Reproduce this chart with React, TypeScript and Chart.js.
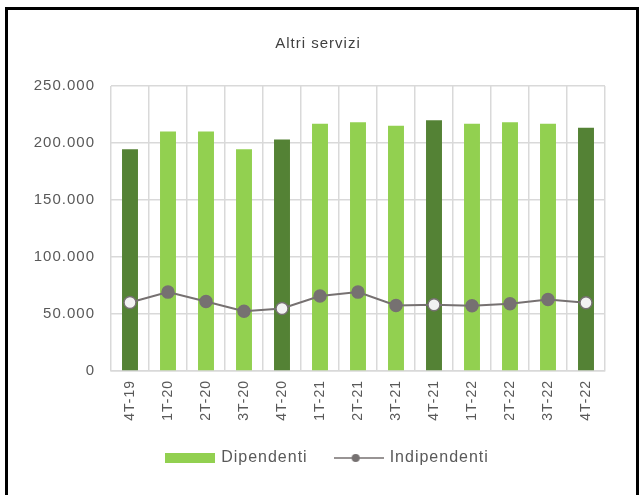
import React, { useEffect, useRef } from "react";
import { Chart, registerables } from "chart.js";

Chart.register(...registerables);

const categories = ["4T-19", "1T-20", "2T-20", "3T-20", "4T-20", "1T-21", "2T-21", "3T-21", "4T-21", "1T-22", "2T-22", "3T-22", "4T-22"];
const dipendenti = [194500, 210000, 210000, 194500, 203000, 216800, 218300, 215100, 220000, 216800, 218300, 216800, 213300];
const indipendenti = [60100, 69200, 61000, 52500, 54900, 65700, 69200, 57500, 58100, 57200, 59000, 62800, 59900];
const yTicks = [0, 50000, 100000, 150000, 200000, 250000];

const DARK = "#548235";
const LIGHT = "#92D050";
const GRAY = "#767171";
const TEXT = "#595959";
const FONT = "'Liberation Sans', Arial, sans-serif";

function fmt(v: number): string {
  return String(Math.round(v)).replace(/\B(?=(\d{3})+(?!\d))/g, ".");
}

function makeBarIcon(): HTMLCanvasElement {
  const c = document.createElement("canvas");
  c.width = 50;
  c.height = 10;
  const g = c.getContext("2d")!;
  g.fillStyle = LIGHT;
  g.fillRect(0, 0, 50, 10);
  return c;
}

function makeLineIcon(): HTMLCanvasElement {
  const c = document.createElement("canvas");
  c.width = 50;
  c.height = 12;
  const g = c.getContext("2d")!;
  g.strokeStyle = GRAY;
  g.lineWidth = 1.5;
  g.beginPath();
  g.moveTo(0, 6);
  g.lineTo(50, 6);
  g.stroke();
  g.fillStyle = GRAY;
  g.beginPath();
  g.arc(22, 6, 4, 0, Math.PI * 2);
  g.fill();
  return c;
}

const spacingPlugin = {
  id: "letterSpacing",
  beforeUpdate(chart: any) {
    (chart.ctx as any).letterSpacing = "1px";
  },
  beforeLayout(chart: any) {
    (chart.ctx as any).letterSpacing = "1px";
  },
  afterLayout(chart: any) {
    if (chart.legend) {
      chart.legend.left += 10;
      chart.legend.right += 10;
    }
  },
  beforeDraw(chart: any) {
    (chart.ctx as any).letterSpacing = "1px";
  },
};

export default function App() {
  const ref = useRef<HTMLCanvasElement | null>(null);

  useEffect(() => {
    if (!ref.current) return;
    const barIcon = makeBarIcon();
    const lineIcon = makeLineIcon();
    const isQ4 = (c: string) => c.startsWith("4T");
    const chart = new Chart(ref.current, {
      type: "bar",
      plugins: [spacingPlugin],
      data: {
        labels: categories,
        datasets: [
          {
            type: "line",
            label: "Indipendenti",
            data: indipendenti,
            borderColor: GRAY,
            borderWidth: 2,
            pointRadius: 6,
            pointBorderWidth: 1.5,
            pointBorderColor: GRAY,
            pointBackgroundColor: categories.map((c) => (isQ4(c) ? "#F2F2F2" : GRAY)),
            order: 0,
          } as any,
          {
            type: "bar",
            label: "Dipendenti",
            data: dipendenti,
            backgroundColor: categories.map((c) => (isQ4(c) ? DARK : LIGHT)),
            barPercentage: 0.42,
            categoryPercentage: 1,
            order: 1,
          },
        ],
      },
      options: {
        animation: false,
        responsive: false,
        maintainAspectRatio: false,
        layout: { padding: { left: 23, right: 31, top: 0, bottom: 22 } },
        plugins: {
          title: {
            display: true,
            text: "Altri servizi",
            color: "#404040",
            font: { family: FONT, size: 15, weight: "normal" },
            padding: { top: 25, bottom: 33 },
          },
          legend: {
            position: "bottom",
            labels: {
              usePointStyle: true,
              pointStyleWidth: 46,
              boxHeight: 12,
              color: TEXT,
              font: { family: FONT, size: 16 },
              padding: 28,
              generateLabels: () => [
                { text: "Dipendenti", pointStyle: barIcon, fillStyle: LIGHT, strokeStyle: LIGHT, lineWidth: 0, datasetIndex: 1, fontColor: TEXT } as any,
                { text: "Indipendenti", pointStyle: lineIcon, fillStyle: GRAY, strokeStyle: GRAY, lineWidth: 0, datasetIndex: 0, fontColor: TEXT } as any,
              ],
            },
          },
          tooltip: { enabled: false },
        },
        scales: {
          x: {
            grid: { color: "#D9D9D9", lineWidth: 1.5, drawTicks: false, offset: true },
            border: { color: "#D9D9D9", width: 1.5 },
            afterFit: (axis: any) => {
              axis.height = 51;
            },
            ticks: {
              color: TEXT,
              font: { family: FONT, size: 14 },
              minRotation: 90,
              maxRotation: 90,
              padding: 9,
            },
          },
          y: {
            min: 0,
            max: 250000,
            grid: { color: "#D9D9D9", lineWidth: 1.5, drawTicks: false },
            border: { display: false },
            afterFit: (axis: any) => {
              axis.width = 80;
            },
            afterBuildTicks: (axis: any) => {
              axis.ticks = yTicks.map((v) => ({ value: v }));
            },
            ticks: {
              color: TEXT,
              font: { family: FONT, size: 15 },
              padding: 16,
              callback: (v: any) => fmt(Number(v)),
            },
          },
        },
      },
    });
    return () => chart.destroy();
  }, []);

  return (
    <div
      style={{
        position: "fixed",
        left: 5,
        top: 7,
        width: 634,
        height: 500,
        border: "3px solid #000",
        boxSizing: "border-box",
        background: "#fff",
      }}
    >
      <canvas ref={ref} width={628} height={488} style={{ display: "block" }} />
    </div>
  );
}
